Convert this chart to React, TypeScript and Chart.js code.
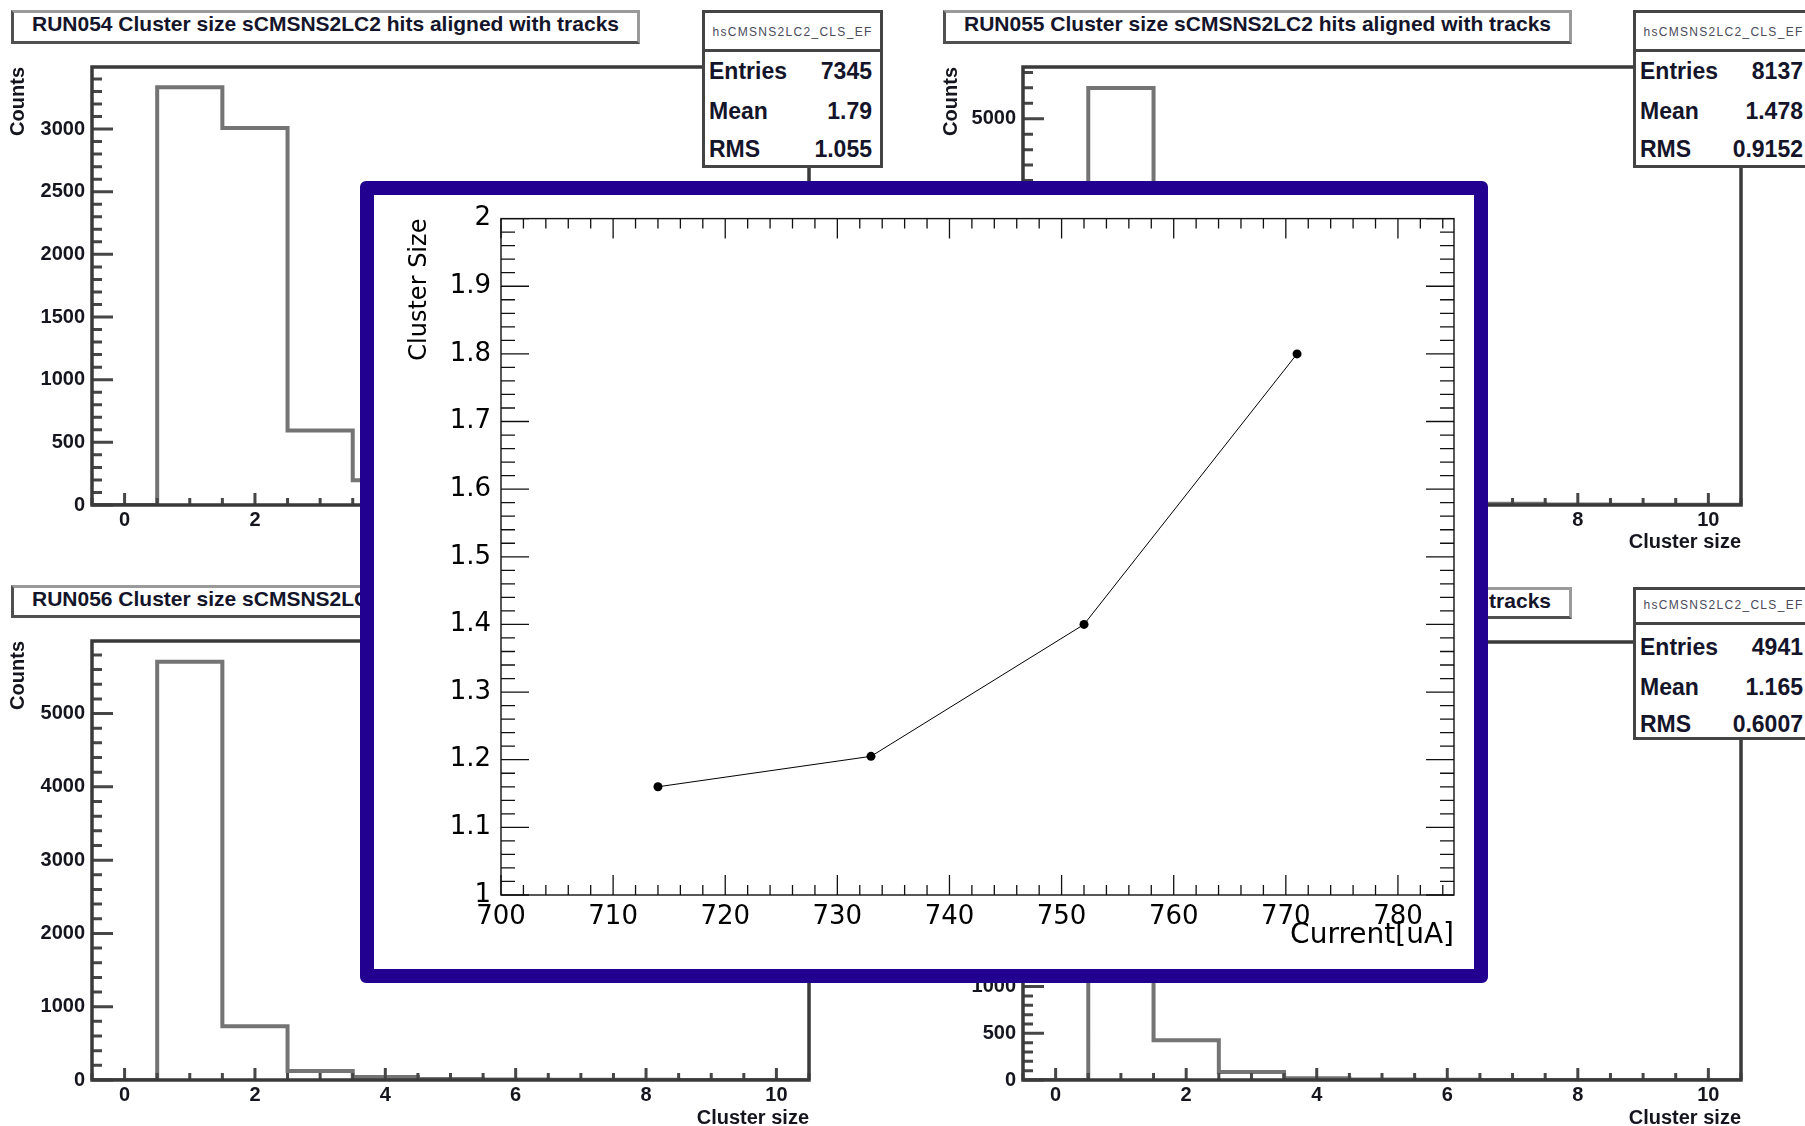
import React, { useEffect, useRef } from "react";
import { Chart, registerables } from "chart.js";
Chart.register(...registerables);

// ---------- main graph data ----------
const currents = [714, 733, 752, 771];
const clusterSizes = [1.16, 1.205, 1.4, 1.8];

// ---------- background histograms ----------
const binCenters = [0, 1, 2, 3, 4, 5, 6, 7, 8, 9, 10];
const run054Counts = [0, 3333, 3008, 595, 198, 100, 50, 30, 15, 10, 6];
const run055Counts = [0, 5398, 1900, 550, 170, 60, 30, 15, 8, 4, 2];
const run056Counts = [0, 5707, 734, 122, 40, 15, 8, 4, 2, 1, 1];
const run057Counts = [0, 4400, 425, 85, 20, 6, 3, 1, 1, 0, 0];

const run054Title = "RUN054 Cluster size sCMSNS2LC2 hits aligned with tracks";
const run055Title = "RUN055 Cluster size sCMSNS2LC2 hits aligned with tracks";
const run056Title = "RUN056 Cluster size sCMSNS2LC2 hits aligned with tracks";
const run057Title = "RUN057 Cluster size sCMSNS2LC2 hits aligned with tracks";

const statsName = "hsCMSNS2LC2_CLS_EF";
const statLabels = ["Entries", "Mean", "RMS"];
const run054Stats = ["7345", "1.79", "1.055"];
const run055Stats = ["8137", "1.478", "0.9152"];
const run057Stats = ["4941", "1.165", "0.6007"];

const isMajor = (v: number, step: number) =>
  Math.abs(v / step - Math.round(v / step)) < 1e-6;

type TickCfg = {
  xMajor: number;
  xMinor: number;
  yMajor: number;
  yMinor: number;
  xMajorLen: number;
  xMinorLen: number;
  yMajorLen: number;
  yMinorLen: number;
  mirror: boolean;
  tickColor: string;
  tickWidth: number;
  frameColor: string;
  frameWidth: number;
};

function tickValues(min: number, max: number, step: number) {
  const out: number[] = [];
  const k0 = Math.ceil(min / step - 1e-9);
  const k1 = Math.floor(max / step + 1e-9);
  for (let k = k0; k <= k1; k++) out.push(Math.round(k * step * 1e6) / 1e6);
  return out;
}

function frameTicksPlugin(cfg: TickCfg) {
  return {
    id: "frameTicks",
    afterDatasetsDraw(chart: any) {
      const { ctx, chartArea: a, scales } = chart;
      const xs = scales.x;
      const ys = scales.y;
      ctx.save();
      ctx.strokeStyle = cfg.tickColor;
      ctx.lineWidth = cfg.tickWidth;
      ctx.beginPath();
      for (const v of tickValues(xs.min, xs.max, cfg.xMinor)) {
        const px = xs.getPixelForValue(v);
        const len = isMajor(v, cfg.xMajor) ? cfg.xMajorLen : cfg.xMinorLen;
        ctx.moveTo(px, a.bottom);
        ctx.lineTo(px, a.bottom - len);
        if (cfg.mirror) {
          ctx.moveTo(px, a.top);
          ctx.lineTo(px, a.top + len);
        }
      }
      for (const v of tickValues(ys.min, ys.max, cfg.yMinor)) {
        const py = ys.getPixelForValue(v);
        const len = isMajor(v, cfg.yMajor) ? cfg.yMajorLen : cfg.yMinorLen;
        ctx.moveTo(a.left, py);
        ctx.lineTo(a.left + len, py);
        if (cfg.mirror) {
          ctx.moveTo(a.right, py);
          ctx.lineTo(a.right - len, py);
        }
      }
      ctx.stroke();
      ctx.strokeStyle = cfg.frameColor;
      ctx.lineWidth = cfg.frameWidth;
      ctx.strokeRect(a.left, a.top, a.right - a.left, a.bottom - a.top);
      ctx.restore();
    },
  };
}

const histFont = { family: "'Liberation Sans', Arial, sans-serif", size: 20, weight: "bold" as const };
const histText = "#15151f";

type Rect = { l: number; t: number; r: number; b: number };

function Histogram(p: {
  counts: number[];
  plot: Rect;
  yMax: number;
  yMajor: number;
  yMinor: number;
  yAxisW: number;
  xAxisH: number;
}) {
  const ref = useRef<HTMLCanvasElement>(null);
  const padTop = 16;
  const padRight = 10;
  const left = p.plot.l - p.yAxisW;
  const top = p.plot.t - padTop;
  const width = p.plot.r + padRight - left;
  const height = p.plot.b + p.xAxisH - top;
  useEffect(() => {
    const pts = binCenters.map((c, i) => ({ x: c - 0.5, y: p.counts[i] }));
    pts.push({ x: binCenters[binCenters.length - 1] + 0.5, y: p.counts[p.counts.length - 1] });
    const chart = new Chart(ref.current as HTMLCanvasElement, {
      type: "line",
      data: {
        datasets: [
          {
            data: pts,
            stepped: "before",
            borderColor: "#747474",
            borderWidth: 4,
            pointRadius: 0,
            fill: false,
          } as any,
        ],
      },
      options: {
        animation: false,
        responsive: false,
        maintainAspectRatio: false,
        events: [],
        layout: { padding: { top: padTop, right: padRight, left: 0, bottom: 0 } },
        plugins: { legend: { display: false }, tooltip: { enabled: false } },
        scales: {
          x: {
            type: "linear",
            min: -0.5,
            max: 10.5,
            grid: { display: false, drawTicks: false },
            border: { display: false },
            ticks: {
              autoSkip: false,
              maxRotation: 0,
              padding: 3,
              font: histFont,
              color: histText,
              callback: (v: any) => String(v),
            },
            afterBuildTicks: (s: any) => {
              s.ticks = tickValues(0, 10, 2).map((value) => ({ value }));
            },
            title: { display: true, text: "Cluster size", align: "end", font: histFont, color: histText, padding: 0 },
            afterFit: (s: any) => {
              s.height = p.xAxisH;
            },
          },
          y: {
            type: "linear",
            min: 0,
            max: p.yMax,
            grid: { display: false, drawTicks: false },
            border: { display: false },
            ticks: {
              autoSkip: false,
              padding: 7,
              font: histFont,
              color: histText,
              callback: (v: any) => String(v),
            },
            afterBuildTicks: (s: any) => {
              s.ticks = tickValues(0, p.yMax, p.yMajor).map((value) => ({ value }));
            },
            title: { display: true, text: "Counts", align: "end", font: histFont, color: histText, padding: 0 },
            afterFit: (s: any) => {
              s.width = p.yAxisW;
            },
          },
        },
      } as any,
      plugins: [
        frameTicksPlugin({
          xMajor: 2,
          xMinor: 0.5,
          yMajor: p.yMajor,
          yMinor: p.yMinor,
          xMajorLen: 12,
          xMinorLen: 7,
          yMajorLen: 21,
          yMinorLen: 10,
          mirror: false,
          tickColor: "#464646",
          tickWidth: 3,
          frameColor: "#3a3a3a",
          frameWidth: 3.5,
        }),
      ],
    });
    return () => chart.destroy();
  }, []);
  return (
    <canvas
      ref={ref}
      width={width}
      height={height}
      style={{ position: "absolute", left, top, width, height }}
    />
  );
}

function TitleBox(p: { left: number; top: number; width: number; height: number; text: string }) {
  return (
    <div
      style={{
        position: "absolute",
        left: p.left,
        top: p.top,
        width: p.width,
        height: p.height,
        boxSizing: "border-box",
        borderTop: "3px solid #9a9a9a",
        borderRight: "3px solid #9a9a9a",
        borderLeft: "3px solid #505050",
        borderBottom: "3px solid #505050",
        background: "#fff",
        font: "bold 21px 'Liberation Sans', Arial, sans-serif",
        lineHeight: "21px",
        color: "#14142a",
        textAlign: "center",
        whiteSpace: "nowrap",
        overflow: "hidden",
      }}
    >
      {p.text}
    </div>
  );
}

function StatsBox(p: {
  left: number;
  top: number;
  height: number;
  sep: number;
  header: number;
  rows: number[];
  values: string[];
}) {
  const w = 181;
  return (
    <div
      style={{
        position: "absolute",
        left: p.left,
        top: p.top,
        width: w,
        height: p.height,
        boxSizing: "border-box",
        border: "3px solid #444",
        background: "#fff",
        color: "#14142a",
      }}
    >
      <div
        style={{
          position: "absolute",
          left: 0,
          right: 0,
          top: p.header - 3 - 7,
          height: 14,
          lineHeight: "14px",
          font: "12px 'Liberation Sans', Arial, sans-serif",
          letterSpacing: "1.3px",
          textAlign: "center",
          color: "#4a4a5a",
          whiteSpace: "nowrap",
        }}
      >
        {statsName}
      </div>
      <div
        style={{ position: "absolute", left: 0, right: 0, top: p.sep - 3 - 1.5, height: 3, background: "#444" }}
      />
      {statLabels.map((lab, i) => (
        <div
          key={lab}
          style={{
            position: "absolute",
            left: 4,
            right: 8,
            top: p.rows[i] - 3 - 11.5,
            height: 23,
            lineHeight: "23px",
            font: "bold 23px 'Liberation Sans', Arial, sans-serif",
            display: "flex",
            justifyContent: "space-between",
            whiteSpace: "nowrap",
          }}
        >
          <span>{lab}</span>
          <span>{p.values[i]}</span>
        </div>
      ))}
    </div>
  );
}

const mainTickFont = { family: "'DejaVu Sans', sans-serif", size: 26 };

function MainGraph() {
  const ref = useRef<HTMLCanvasElement>(null);
  const plot = { l: 501, t: 213, r: 1454, b: 895 };
  const yAxisW = 101;
  const xAxisH = 58;
  const padTop = 20;
  const padRight = 10;
  const left = plot.l - yAxisW;
  const top = plot.t - padTop;
  const width = plot.r + padRight - left;
  const height = plot.b + xAxisH - top;
  useEffect(() => {
    const chart = new Chart(ref.current as HTMLCanvasElement, {
      type: "line",
      data: {
        datasets: [
          {
            data: currents.map((x, i) => ({ x, y: clusterSizes[i] })),
            borderColor: "#000",
            borderWidth: 1,
            pointRadius: 4.5,
            pointBackgroundColor: "#000",
            pointBorderWidth: 0,
            fill: false,
            tension: 0,
          },
        ],
      },
      options: {
        animation: false,
        responsive: false,
        maintainAspectRatio: false,
        events: [],
        layout: { padding: { top: padTop, right: padRight, left: 0, bottom: 0 } },
        plugins: { legend: { display: false }, tooltip: { enabled: false } },
        scales: {
          x: {
            type: "linear",
            min: 700,
            max: 785,
            grid: { display: false, drawTicks: false },
            border: { display: false },
            ticks: {
              autoSkip: false,
              maxRotation: 0,
              padding: 7,
              font: mainTickFont,
              color: "#000",
              callback: (v: any) => String(v),
            },
            afterBuildTicks: (s: any) => {
              s.ticks = tickValues(700, 785, 10).map((value) => ({ value }));
            },
            title: {
              display: true,
              text: "Current[uA]",
              align: "end",
              font: { family: "'DejaVu Sans', sans-serif", size: 28 },
              color: "#000",
              padding: 0,
            },
            afterFit: (s: any) => {
              s.height = xAxisH;
            },
          },
          y: {
            type: "linear",
            min: 1,
            max: 2,
            grid: { display: false, drawTicks: false },
            border: { display: false },
            ticks: {
              autoSkip: false,
              padding: 10,
              font: mainTickFont,
              color: "#000",
              callback: (v: any) => String(Number(Number(v).toFixed(1))),
            },
            afterBuildTicks: (s: any) => {
              s.ticks = tickValues(1, 2, 0.1).map((value) => ({ value }));
            },
            title: {
              display: true,
              text: "Cluster Size",
              align: "end",
              font: { family: "'DejaVu Sans', sans-serif", size: 24 },
              color: "#000",
              padding: { top: 5, bottom: 0 },
            },
            afterFit: (s: any) => {
              s.width = yAxisW;
            },
          },
        },
      } as any,
      plugins: [
        frameTicksPlugin({
          xMajor: 10,
          xMinor: 2,
          yMajor: 0.1,
          yMinor: 0.02,
          xMajorLen: 20,
          xMinorLen: 10,
          yMajorLen: 28,
          yMinorLen: 14,
          mirror: true,
          tickColor: "#111",
          tickWidth: 1.3,
          frameColor: "#111",
          frameWidth: 1.4,
        }),
      ],
    });
    return () => chart.destroy();
  }, []);
  return (
    <canvas
      ref={ref}
      width={width}
      height={height}
      style={{ position: "absolute", left, top, width, height }}
    />
  );
}

export default function App() {
  useEffect(() => {
    document.body.style.margin = "0";
    document.body.style.overflow = "hidden";
  }, []);
  return (
    <div
      style={{
        position: "absolute",
        left: 0,
        top: 0,
        width: 1805,
        height: 1126,
        overflow: "hidden",
        background: "#fff",
      }}
    >
      <Histogram counts={run054Counts} plot={{ l: 92, t: 64, r: 809, b: 505 }} yMax={3495} yMajor={500} yMinor={100} yAxisW={86} xAxisH={49} />
      <Histogram counts={run055Counts} plot={{ l: 1023, t: 64, r: 1741, b: 505 }} yMax={5670} yMajor={1000} yMinor={200} yAxisW={84} xAxisH={49} />
      <Histogram counts={run056Counts} plot={{ l: 92, t: 638, r: 809, b: 1080 }} yMax={5990} yMajor={1000} yMinor={200} yAxisW={86} xAxisH={50} />
      <Histogram counts={run057Counts} plot={{ l: 1023, t: 639, r: 1741, b: 1080 }} yMax={4690} yMajor={500} yMinor={100} yAxisW={84} xAxisH={50} />

      <TitleBox left={11} top={10} width={629} height={34} text={run054Title} />
      <TitleBox left={943} top={10} width={629} height={34} text={run055Title} />
      <TitleBox left={11} top={585} width={629} height={33} text={run056Title} />
      <TitleBox left={943} top={587} width={629} height={32} text={run057Title} />

      <StatsBox left={702} top={10} height={158} sep={40} header={22} rows={[59, 99, 137]} values={run054Stats} />
      <StatsBox left={1633} top={10} height={158} sep={40} header={22} rows={[59, 99, 137]} values={run055Stats} />
      <StatsBox left={1633} top={587} height={153} sep={36} header={18} rows={[58, 98, 135]} values={run057Stats} />

      <div
        style={{
          position: "absolute",
          left: 360,
          top: 181,
          width: 1128,
          height: 802,
          boxSizing: "border-box",
          border: "14px solid #220090",
          borderRadius: 6,
          background: "#fff",
        }}
      />
      <MainGraph />
    </div>
  );
}
